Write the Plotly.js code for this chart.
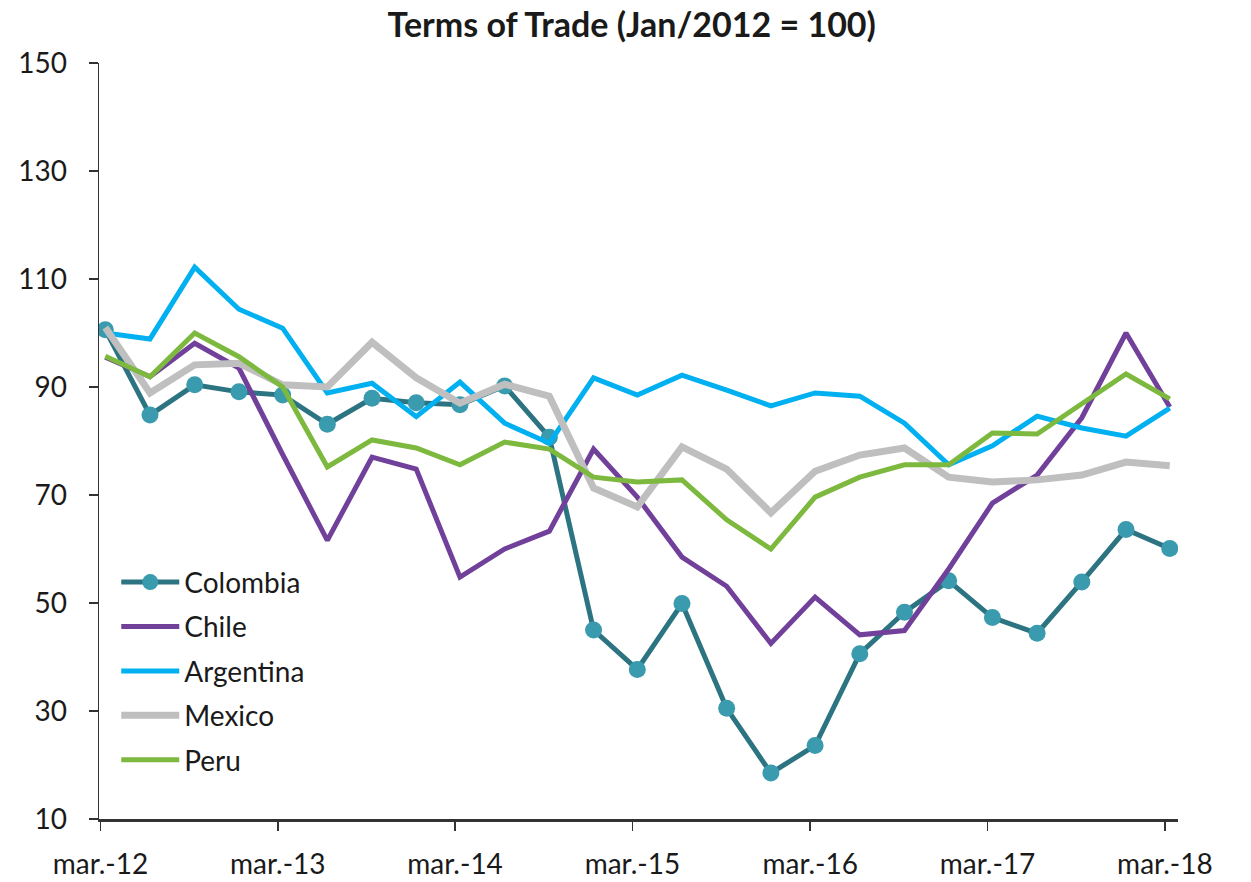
<!DOCTYPE html>
<html>
<head>
<meta charset="utf-8">
<script src="https://cdn.plot.ly/plotly-3.0.1.min.js"></script>
<style>html,body{margin:0;padding:0;background:#fff;}#chart{width:1251px;height:882px;}</style>
</head>
<body>
<div id="chart"></div>
<script>
// Quarterly observation dates
const dates = [
  "2012-03-11","2012-06-11","2012-09-11","2012-12-11",
  "2013-03-11","2013-06-11","2013-09-11","2013-12-11",
  "2014-03-11","2014-06-11","2014-09-11","2014-12-11",
  "2015-03-11","2015-06-11","2015-09-11","2015-12-11",
  "2016-03-11","2016-06-11","2016-09-11","2016-12-11",
  "2017-03-11","2017-06-11","2017-09-11","2017-12-11",
  "2018-03-11"
];
const tickDates = ["2012-03-01","2013-03-01","2014-03-01","2015-03-01","2016-03-01","2017-03-01","2018-03-01"];
const tickLabels = ["mar.-12","mar.-13","mar.-14","mar.-15","mar.-16","mar.-17","mar.-18"];

const colombia = [100.6, 84.8, 90.4, 89.1, 88.5, 83.1, 87.9, 87.1, 86.7, 90.2, 80.7,
                  45.0, 37.7, 49.9, 30.5, 18.5, 23.6, 40.6, 48.3, 54.1, 47.3, 44.4, 53.9, 63.6, 60.1];
const chile    = [95.5, 91.9, 98.1, 93.5, 77.5, 61.6, 77.0, 74.8, 54.8, 60.0, 63.3,
                  78.5, 69.6, 58.5, 53.1, 42.5, 51.1, 44.1, 44.9, 56.3, 68.5, 73.7, 84.3, 100.0, 86.3];
const argentina= [100.0, 98.9, 112.2, 104.4, 100.9, 88.9, 90.7, 84.5, 90.9, 83.3, 79.6,
                  91.7, 88.5, 92.2, 89.4, 86.5, 88.9, 88.3, 83.3, 75.6, 79.1, 84.6, 82.4, 80.9, 86.1];
const mexico   = [101.0, 88.9, 94.1, 94.4, 90.4, 90.0, 98.3, 91.7, 87.0, 90.5, 88.3,
                  71.3, 67.8, 78.9, 74.8, 66.7, 74.4, 77.4, 78.7, 73.3, 72.4, 72.8, 73.7, 76.1, 75.4];
const peru     = [95.7, 91.9, 100.0, 95.6, 90.0, 75.2, 80.2, 78.7, 75.6, 79.8, 78.5,
                  73.3, 72.4, 72.8, 65.4, 60.0, 69.6, 73.3, 75.6, 75.6, 81.5, 81.3, 86.9, 92.4, 87.8];

const seriesNames = ["Colombia","Chile","Argentina","Mexico","Peru"];
const FONT = "Lato, 'Open Sans', sans-serif";

const traces = [
  {x: dates, y: colombia, name: seriesNames[0], type: "scatter", mode: "lines+markers",
   line: {color: "#2C7481", width: 5}, marker: {color: "#3A9AAE", size: 17}, legendgroup: "a"},
  {x: dates, y: chile, name: seriesNames[1], type: "scatter", mode: "lines",
   line: {color: "#71409A", width: 5}, legendgroup: "b"},
  {x: dates, y: argentina, name: seriesNames[2], type: "scatter", mode: "lines",
   line: {color: "#00B0F0", width: 5}, legendgroup: "c"},
  {x: dates, y: mexico, name: seriesNames[3], type: "scatter", mode: "lines",
   line: {color: "#BFBFBF", width: 7}, legendgroup: "d"},
  {x: dates, y: peru, name: seriesNames[4], type: "scatter", mode: "lines",
   line: {color: "#7DB93F", width: 5}, legendgroup: "e"}
];

const layout = {
  width: 1251, height: 882,
  paper_bgcolor: "#fff", plot_bgcolor: "#fff",
  margin: {l: 99, r: 73, t: 63, b: 63, pad: 0},
  font: {family: FONT, size: 28, color: "#1a1a1a"},
  title: {text: "<b>Terms of Trade (Jan/2012 = 100)</b>", font: {family: FONT, size: 34, color: "#1a1a1a"},
          x: 0.505, xanchor: "center", y: 0.972, yanchor: "middle"},
  xaxis: {
    type: "date", range: ["2012-02-27", "2018-03-28"],
    tickvals: tickDates, ticktext: tickLabels,
    showgrid: false, zeroline: false,
    showline: true, linecolor: "#333", linewidth: 3,
    ticks: "outside", ticklen: 9, tickwidth: 1.5, tickcolor: "#333",
    ticklabelstandoff: 9,
    tickfont: {family: FONT, size: 28, color: "#1a1a1a"}
  },
  yaxis: {
    range: [10, 150], tickvals: [10,30,50,70,90,110,130,150],
    showgrid: false, zeroline: false,
    showline: true, linecolor: "#333", linewidth: 1.5,
    ticks: "outside", ticklen: 9, tickwidth: 1.5, tickcolor: "#333",
    ticklabelstandoff: 16,
    tickfont: {family: FONT, size: 28, color: "#1a1a1a"}
  },
  showlegend: true,
  legend: {
    x: 0.016, y: 0.346, xanchor: "left", yanchor: "top",
    bgcolor: "rgba(255,255,255,0)", borderwidth: 0,
    font: {family: FONT, size: 28, color: "#1a1a1a"},
    traceorder: "grouped", tracegroupgap: 5, itemwidth: 58
  }
};

Plotly.newPlot("chart", traces, layout, {displayModeBar: false, staticPlot: true});
</script>
</body>
</html>
